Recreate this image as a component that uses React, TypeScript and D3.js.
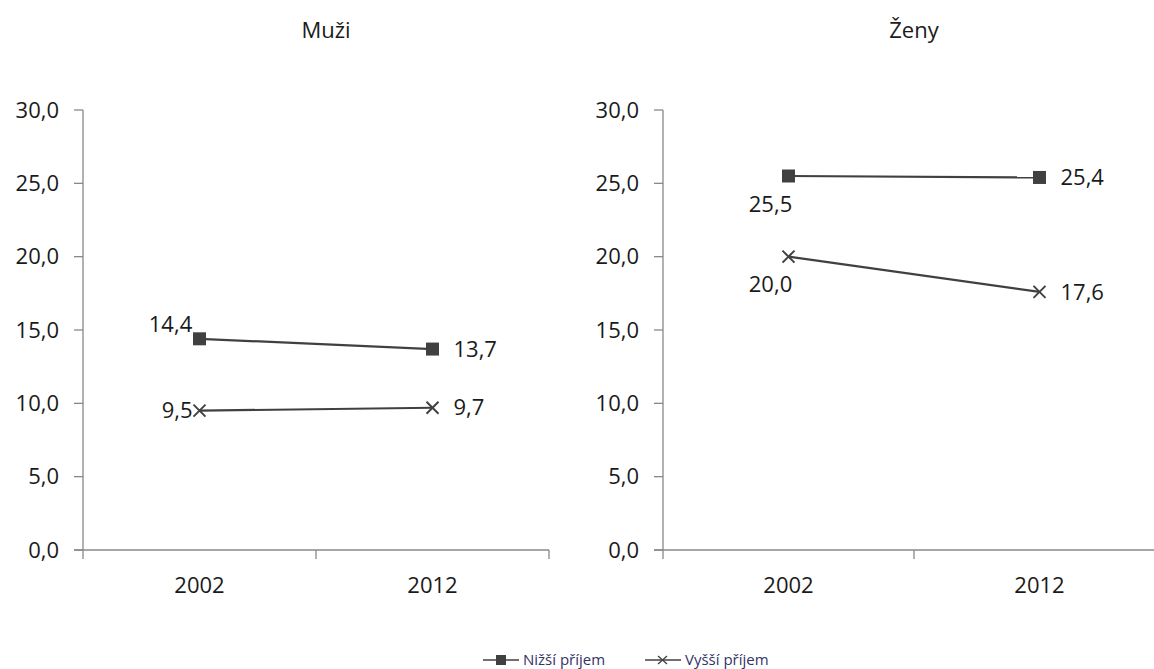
import React from "react";
import * as d3 from "d3";

const categories = ["2002", "2012"];
const panels = ["Muži", "Ženy"];
const seriesNames = ["Nižší příjem", "Vyšší příjem"];
const muziNizsi = [14.4, 13.7];
const muziVyssi = [9.5, 9.7];
const zenyNizsi = [25.5, 25.4];
const zenyVyssi = [20.0, 17.6];
const yTicks = [0, 5, 10, 15, 20, 25, 30];

const W = 1154;
const H = 669;
const FONT = "'Open Sans', 'Noto Sans', sans-serif";
const LINE = "#404040";
const AXIS = "#888888";
const TEXT = "#1a1a1a";
const FS = 22;

type LabelPos = "left" | "right" | "above" | "below" | "aboveLeft";

const panelDefs = [
  {
    title: panels[0],
    x0: 83,
    x1: 549,
    data: [muziNizsi, muziVyssi],
    pos: [
      ["aboveLeft", "right"],
      ["left", "right"],
    ] as LabelPos[][],
  },
  {
    title: panels[1],
    x0: 663,
    x1: 1165,
    data: [zenyNizsi, zenyVyssi],
    pos: [
      ["below", "right"],
      ["below", "right"],
    ] as LabelPos[][],
  },
];

const fmt = (v: number) => v.toFixed(1).replace(".", ",");

function Marker({ kind, x, y }: { kind: number; x: number; y: number }) {
  if (kind === 0) {
    return <rect x={x - 6.5} y={y - 6.5} width={13} height={13} fill={LINE} />;
  }
  const s = 6;
  return (
    <g stroke={LINE} strokeWidth={2}>
      <line x1={x - s} y1={y - s} x2={x + s} y2={y + s} />
      <line x1={x - s} y1={y + s} x2={x + s} y2={y - s} />
    </g>
  );
}

export default function App() {
  const y = d3.scaleLinear().domain([0, 30]).range([550, 110]);
  return (
    <svg width={W} height={H} style={{ position: "absolute", left: 0, top: 0, background: "#fff" }}>
      {panelDefs.map((p, pi) => {
        const x = d3.scaleBand().domain(categories).range([p.x0, p.x1]);
        const cx = (c: string) => (x(c) as number) + x.bandwidth() / 2;
        const line = d3
          .line<number>()
          .x((_, i) => cx(categories[i]))
          .y((d) => y(d));
        return (
          <g key={pi}>
            <text
              x={pi === 0 ? 326 : 914}
              y={38}
              textAnchor="middle"
              fontFamily={FONT}
              fontSize={FS}
              fill={TEXT}
            >
              {p.title}
            </text>
            {/* y axis */}
            <line x1={p.x0} y1={y(30)} x2={p.x0} y2={y(0) + 9} stroke={AXIS} strokeWidth={1.3} />
            {yTicks.map((t) => (
              <g key={t}>
                <line x1={p.x0 - 9} x2={p.x0} y1={y(t)} y2={y(t)} stroke={AXIS} strokeWidth={1.3} />
                <text
                  x={p.x0 - 24}
                  y={y(t)}
                  dy="0.35em"
                  textAnchor="end"
                  fontFamily={FONT}
                  fontSize={FS}
                  fill={TEXT}
                >
                  {fmt(t)}
                </text>
              </g>
            ))}
            {/* x axis */}
            <line x1={p.x0 - 9} x2={p.x1} y1={y(0)} y2={y(0)} stroke={AXIS} strokeWidth={1.3} />
            {categories.map((c, i) => (
              <g key={c}>
                {i > 0 && (
                  <line
                    x1={x(c) as number}
                    x2={x(c) as number}
                    y1={y(0)}
                    y2={y(0) + 9}
                    stroke={AXIS}
                    strokeWidth={1.3}
                  />
                )}
                <text
                  x={cx(c)}
                  y={593}
                  textAnchor="middle"
                  fontFamily={FONT}
                  fontSize={FS}
                  fill={TEXT}
                >
                  {c}
                </text>
              </g>
            ))}
            <line x1={p.x1} x2={p.x1} y1={y(0)} y2={y(0) + 9} stroke={AXIS} strokeWidth={1.3} />
            {/* series */}
            {p.data.map((vals, si) => (
              <g key={si}>
                <path d={line(vals) || ""} fill="none" stroke={LINE} strokeWidth={2.2} />
                {vals.map((v, i) => {
                  const px = cx(categories[i]);
                  const py = y(v);
                  const pos = p.pos[si][i];
                  let tx = px;
                  let ty = py;
                  let anchor: "start" | "end" | "middle" = "middle";
                  if (pos === "right") {
                    tx = px + 21;
                    anchor = "start";
                  } else if (pos === "left") {
                    tx = px - 7;
                    anchor = "end";
                  } else if (pos === "below") {
                    tx = px - 18;
                    ty = py + 28;
                  } else if (pos === "aboveLeft") {
                    tx = px - 29;
                    ty = py - 15;
                  }
                  return (
                    <g key={i}>
                      <Marker kind={si} x={px} y={py} />
                      <text
                        x={tx}
                        y={ty}
                        dy="0.35em"
                        textAnchor={anchor}
                        fontFamily={FONT}
                        fontSize={FS}
                        fill={TEXT}
                      >
                        {fmt(v)}
                      </text>
                    </g>
                  );
                })}
              </g>
            ))}
          </g>
        );
      })}
      {/* legend */}
      {seriesNames.map((n, i) => {
        const lx = 483 + i * 162;
        const ly = 660;
        return (
          <g key={n}>
            <line x1={lx} x2={lx + 36} y1={ly} y2={ly} stroke={LINE} strokeWidth={1.5} />
            {i === 0 ? (
              <rect x={lx + 13} y={ly - 5} width={10} height={10} fill={LINE} />
            ) : (
              <g stroke={LINE} strokeWidth={1.3}>
                <line x1={lx + 13} y1={ly - 4} x2={lx + 22} y2={ly + 4} />
                <line x1={lx + 13} y1={ly + 4} x2={lx + 22} y2={ly - 4} />
              </g>
            )}
            <text
              x={lx + 40}
              y={ly}
              dy="0.35em"
              fontFamily={FONT}
              fontSize={15}
              fill="#333366"
            >
              {n}
            </text>
          </g>
        );
      })}
    </svg>
  );
}
